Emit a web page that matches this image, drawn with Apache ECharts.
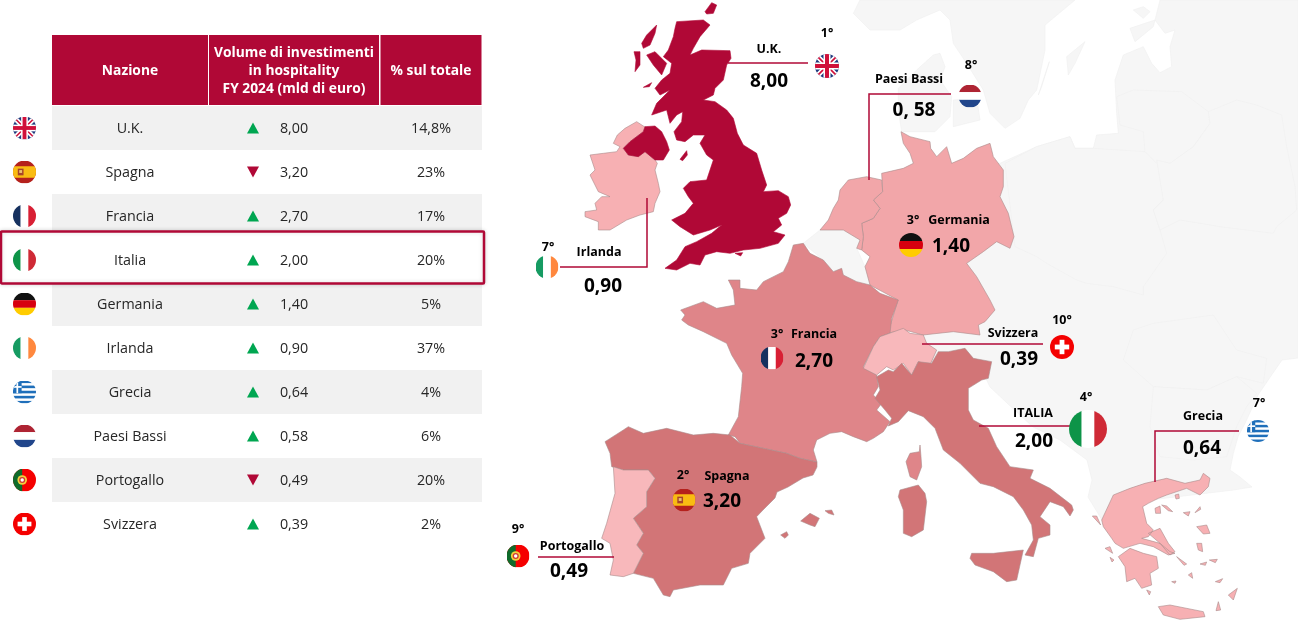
<!DOCTYPE html>
<html>
<head>
<meta charset="utf-8">
<script src="https://cdn.jsdelivr.net/npm/echarts@6/dist/echarts.min.js"></script>
<style>
  html, body { margin: 0; padding: 0; background: #fff; }
  #main { width: 1298px; height: 624px; }
</style>
</head>
<body>
<div id="main"></div>
<script>
// dati della tabella
var nazioni = ['U.K.', 'Spagna', 'Francia', 'Italia', 'Germania', 'Irlanda', 'Grecia', 'Paesi Bassi', 'Portogallo', 'Svizzera'];
var volumi = [8.00, 3.20, 2.70, 2.00, 1.40, 0.90, 0.64, 0.58, 0.49, 0.39];
var quote = ['14,8%', '23%', '17%', '20%', '5%', '37%', '4%', '6%', '20%', '2%'];
var trend = [1, -1, 1, 1, 1, 1, 1, 1, -1, 1];
var intestazioni = ['Nazione', 'Volume di investimenti\nin hospitality\nFY 2024 (mld di euro)', '% sul totale'];

// dati delle etichette sulla mappa
var nomiMappa = ['U.K.', 'Spagna', 'Francia', 'ITALIA', 'Germania', 'Irlanda', 'Grecia', 'Paesi Bassi', 'Portogallo', 'Svizzera'];
var valoriMappa = ['8,00', '3,20', '2,70', '2,00', '1,40', '0,90', '0,64', '0, 58', '0,49', '0,39'];
var posizioni = ['1°', '2°', '3°', '4°', '3°', '7°', '7°', '8°', '9°', '10°'];

var font = '"Open Sans", "Noto Sans", sans-serif';
var rosso = '#b00836';
var verde = '#00a651';

// bandiere tonde
function bandiera(corpo) {
  var svg = '<svg xmlns="http://www.w3.org/2000/svg" width="96" height="96" viewBox="0 0 24 24">' +
    '<defs><clipPath id="c"><circle cx="12" cy="12" r="12"/></clipPath></defs><g clip-path="url(#c)">' + corpo + '</g></svg>';
  return 'image://data:image/svg+xml;charset=utf-8,' + encodeURIComponent(svg);
}
function r(x, y, w, h, c) {
  return '<rect x="' + x + '" y="' + y + '" width="' + w + '" height="' + h + '" fill="' + c + '"/>';
}
var bandiere = {
  'U.K.': bandiera(r(0, 0, 24, 24, '#1f3a7d') +
    '<path d="M0 0L24 24M24 0L0 24" stroke="#fff" stroke-width="5"/><path d="M0 0L24 24M24 0L0 24" stroke="#d0103a" stroke-width="1.6"/>' +
    r(8.5, 0, 7, 24, '#fff') + r(0, 8.5, 24, 7, '#fff') + r(10, 0, 4, 24, '#d0103a') + r(0, 10, 24, 4, '#d0103a')),
  'Spagna': bandiera(r(0, 0, 24, 24, '#b5211c') + r(0, 6, 24, 12, '#f9bc12') + r(5, 8.5, 6, 7, '#a8442a') + r(6.5, 10, 3, 3, '#e8c070')),
  'Francia': bandiera(r(0, 0, 8, 24, '#16315f') + r(8, 0, 8, 24, '#fff') + r(16, 0, 8, 24, '#d81f34')),
  'Italia': bandiera(r(0, 0, 8, 24, '#0d9448') + r(8, 0, 8, 24, '#fff') + r(16, 0, 8, 24, '#cf2a36')),
  'Germania': bandiera(r(0, 0, 24, 8, '#111') + r(0, 8, 24, 8, '#d7000f') + r(0, 16, 24, 8, '#ffcc00')),
  'Irlanda': bandiera(r(0, 0, 8, 24, '#169b62') + r(8, 0, 8, 24, '#fff') + r(16, 0, 8, 24, '#ff883e')),
  'Grecia': bandiera(r(0, 0, 24, 24, '#fff') + r(0, 0, 24, 2.7, '#1f6fba') + r(0, 5.3, 24, 2.7, '#1f6fba') + r(0, 10.7, 24, 2.7, '#1f6fba') +
    r(0, 16, 24, 2.7, '#1f6fba') + r(0, 21.3, 24, 2.7, '#1f6fba') + r(0, 0, 9, 13.3, '#1f6fba') + r(3.6, 0, 1.8, 13.3, '#fff') + r(0, 5.8, 9, 1.8, '#fff')),
  'Paesi Bassi': bandiera(r(0, 0, 24, 8, '#ae2433') + r(0, 8, 24, 8, '#fff') + r(0, 16, 24, 8, '#21468b')),
  'Portogallo': bandiera(r(0, 0, 24, 24, '#f50000') + r(0, 0, 9.6, 24, '#0f6b2b') +
    '<circle cx="9.6" cy="12" r="5" fill="#f3d23c"/><circle cx="9.6" cy="12" r="3.2" fill="#d23a32"/><circle cx="9.6" cy="12" r="1.8" fill="#fff"/>'),
  'Svizzera': bandiera(r(0, 0, 24, 24, '#f40000') + r(9.6, 4.8, 4.8, 14.4, '#fff') + r(4.8, 9.6, 14.4, 4.8, '#fff'))
};

function tratto(ox, oy, p) {
  var ring = [];
  for (var i = 0; i < p.length; i += 2) ring.push([ox + p[i] / 3, oy + p[i + 1] / 3]);
  ring.push(ring[0].slice());
  return [ring];
}

var confiniUK = [
  tratto(530, 0, [440,65,520,60,540,75,510,110,490,145,480,165,515,150,600,152,603,175,590,195,580,240,555,265,550,285,520,300,555,305,590,330,610,355,622,400,640,435,680,460,695,510,710,555,700,575,745,572,775,590,782,615,770,640,745,655,755,675,730,695,765,705,745,730,690,745,640,750,600,760,560,755,525,765,510,795,480,790,440,810,405,805,440,780,465,740,500,725,545,700,575,675,540,690,490,705,450,680,425,660,465,640,490,610,475,590,460,565,480,545,530,540,550,480,530,465,510,430,525,405,490,405,465,425,440,420,432,395,455,365,458,335,440,345,420,370,410,330,365,345,380,310,420,270,390,285,375,265,395,240,420,220,425,190,400,170,415,150,430,110,435,85]),
  tratto(530, 0, [280,445,300,425,340,395,345,380,375,378,395,395,410,425,418,450,400,480,375,480,345,455,325,470,295,465]),
  tratto(530, 0, [335,130,350,105,380,75,375,100,360,135,340,145]),
  tratto(530, 0, [312,155,330,155,330,195,315,215,318,180]),
  tratto(530, 0, [525,35,545,8,560,15,550,40,530,42]),
  tratto(530, 0, [350,165,375,155,410,190,395,225,370,195]),
  tratto(530, 0, [450,478,470,452,472,465,458,482]),
  tratto(530, 0, [615,760,638,758,632,768]),
  tratto(530, 0, [340,262,365,248,358,260])
];
var confiniIrlanda = [
  tratto(530, 0, [250,430,262,405,285,385,320,365,340,378,345,380,340,395,300,425,280,445,295,465,325,470,345,455,375,480,382,490,375,510,385,550,390,575,375,610,370,635,330,645,290,660,240,690,205,690,205,665,165,650,165,635,200,630,195,610,215,590,240,590,205,575,180,525,195,510,180,465,220,460,260,455,270,440])
];
var confiniGermania = [
  tratto(820, 0, [185,520,250,505,280,490,270,460,250,430,243,395,270,410,330,425,332,445,350,470,380,440,395,490,430,475,470,445,510,430,520,470,550,510,550,560,540,590,565,640,582,710,570,745,530,725,490,755,440,790,470,830,510,900,525,930,495,965,475,975,480,1005,400,995,309,1005,255,990,204,999,234,900,150,855,135,800,150,770,125,750,130,710,125,670,160,655,180,625,160,600,188,575])
];
var confiniOlanda = [
  tratto(820, 0, [60,570,85,540,140,530,185,540,188,575,160,600,180,625,160,655,125,670,130,710,125,750,110,745,120,720,70,690,30,690,0,690,25,660,40,625,55,600])
];
var confiniFrancia = [
  tratto(660, 240, [400,15,430,10,450,40,490,60,520,95,545,85,550,105,590,125,630,135,660,160,715,180,695,235,690,280,660,290,640,320,610,380,650,405,655,440,640,465,665,490,650,510,690,545,670,575,640,595,620,605,580,590,545,575,510,580,470,600,460,630,471,666,420,655,380,640,310,625,240,610,225,590,205,585,235,530,245,440,248,400,215,345,200,310,130,275,85,255,65,240,75,225,62,210,130,185,170,205,225,195,220,150,205,120,240,120,240,145,290,150,310,125,370,95,385,65]),
  tratto(860, 320, [180,375,183,410,185,440,170,480,150,470,138,425,150,400,178,395])
];
var confiniSvizzera = [
  tratto(660, 240, [660,290,730,265,750,280,790,285,800,310,830,330,810,375,775,365,755,405,730,370,700,390,680,380,650,405,610,385,640,320])
];
var confiniItalia = [
  tratto(860, 320, [50,170,85,150,100,155,125,130,155,165,175,125,215,130,235,95,265,95,315,85,340,115,395,125,385,175,365,180,325,205,325,270,340,300,385,325,410,380,450,440,520,450,510,475,570,505,635,555,640,570,630,588,610,560,570,545,540,590,570,615,570,645,535,655,520,710,495,705,520,660,515,615,490,570,460,530,400,500,360,490,300,430,250,390,225,325,190,290,145,272,115,305,85,318,95,295,75,270,45,235,60,210]),
  tratto(860, 320, [120,510,175,495,195,520,200,545,190,630,155,650,130,640,130,570,115,530]),
  tratto(860, 320, [335,700,400,700,490,690,470,780,440,785,400,755,345,735,330,715])
];
var confiniSpagna = [
  tratto(500, 420, [315,65,370,30,385,20,430,40,500,25,580,45,640,40,690,45,720,70,790,85,860,100,900,115,951,126,951,141,939,165,909,174,864,201,831,216,825,234,789,270,770,290,795,355,750,400,745,430,695,445,670,495,600,495,520,510,510,530,490,525,460,475,400,460,430,400,410,375,430,340,400,295,440,260,440,215,465,175,445,150,370,150,335,140,330,100]),
  tratto(760, 420, [122,303,150,280,178,295,165,320,150,315]),
  tratto(760, 420, [195,272,215,270,222,285,205,280]),
  tratto(760, 420, [62,345,80,335,85,345,75,355])
];
var confiniPortogallo = [
  tratto(500, 420, [340,140,370,150,445,150,465,175,440,215,440,260,400,295,430,340,410,375,430,400,400,460,370,470,330,465,340,420,330,370,305,355,320,310,345,220])
];
var confiniGrecia = [
  tratto(1060, 380, [125,420,160,345,210,325,255,310,320,295,375,310,420,300,430,280,450,295,445,320,420,345,380,325,320,345,295,355,265,370,248,380,260,430,280,450,265,470,245,475,300,490,330,515,345,520,325,525,280,500,240,490,190,505,165,490,155,475,130,440]),
  tratto(1060, 380, [175,530,210,505,250,520,290,530,295,565,270,580,275,615,245,625,225,595,200,605,195,560]),
  tratto(1060, 380, [265,460,300,445,325,490,345,515,330,525,300,490]),
  tratto(1060, 380, [295,680,330,675,430,695,435,710,360,718,310,705]),
  tratto(1060, 380, [285,385,300,378,302,400,287,400]),
  tratto(1060, 380, [305,375,320,378,338,395,325,392]),
  tratto(1060, 380, [345,345,356,342,358,355,348,357]),
  tratto(1060, 380, [410,440,440,435,450,460,430,462]),
  tratto(1060, 380, [410,490,425,490,428,515,415,510]),
  tratto(1060, 380, [505,645,532,625,520,660]),
  tratto(1060, 380, [97,408,110,408,122,435]),
  tratto(1060, 380, [135,505,150,500,158,520]),
  tratto(1060, 380, [150,532,162,540,156,546]),
  tratto(1060, 380, [370,398,390,395,385,408]),
  tratto(1060, 380, [350,530,380,552,372,556]),
  tratto(1060, 380, [420,552,440,546,436,556]),
  tratto(1060, 380, [448,540,472,538,466,548]),
  tratto(1060, 380, [466,605,488,596,480,608]),
  tratto(1060, 380, [385,585,395,578,398,595]),
  tratto(1060, 380, [475,665,482,690,468,692]),
  tratto(1060, 380, [335,605,348,603,345,610]),
  tratto(1060, 380, [405,398,420,380,422,388]),
  tratto(1060, 380, [260,630,272,635,268,645])
];

// terre in grigio chiaro, sotto ai paesi colorati
var confiniEst = [
  tratto(1000, 0, [0,490,110,440,210,410,225,445,280,445,290,405,355,400,350,340,345,240,370,165,430,140,455,190,480,218,515,200,510,140,525,90,495,100,465,60,480,0,895,0,895,1074,846,1080,819,1119,774,1185,735,1270,714,1310,700,1360,690,1410,720,1431,756,1461,700,1470,450,1500,306,1560,264,1491,276,1440,261,1380,180,1320,99,1281,21,1209,-30,1161,-45,1130,-240,1100,-240,500])
];
var confiniNord = [
  tratto(820, 0, [120,0,100,40,150,90,240,90,290,60,360,30,390,60,400,130,440,190,490,270,510,340,555,385,600,355,625,300,650,270,675,150,675,75,765,0]),
  tratto(820, 0, [235,265,290,210,340,165,360,160,375,200,360,240,395,290,390,350,345,395,245,395,235,330]),
  tratto(820, 0, [400,300,470,295,480,360,400,380]),
  tratto(1000, 0, [200,170,255,125,225,190,205,225]),
  tratto(1000, 0, [115,285,148,185,125,260]),
  tratto(1000, 0, [390,85,465,60,460,80,405,125]),
  tratto(1000, 0, [400,30,430,20,450,35,430,55])
];
var confiniBelgio = [
  tratto(820, 0, [-50,730,0,690,70,690,120,720,110,745,135,800,150,855,120,855,75,840,40,815,10,780])
];
var confiniPolonia = [
  tratto(1000, 0, [15,490,110,440,210,410,225,445,280,445,435,455,470,480,490,560,490,600,460,630,480,690,500,760,430,860,430,885,340,860,260,850,230,840,140,790,110,770,45,740])
];
var confiniLituania = [
  tratto(1000, 0, [350,290,400,270,545,275,625,335,630,370,580,440,510,490,470,490,435,455,430,395,360,375])
];
var confiniBielorussia = [
  tratto(1000, 0, [625,335,710,300,770,315,845,345,860,440,885,560,890,630,830,680,820,700,660,680,540,660,480,690,460,630,490,600,470,480,510,490,580,440,630,370])
];
var confiniRomania = [
  tratto(980, 280, [460,150,520,130,700,105,770,210,860,235,850,310,770,290,680,330,520,320,430,240])
];
var confiniBulgaria = [
  tratto(980, 280, [520,320,680,330,770,290,830,340,800,380,770,440,740,530,640,540,540,530,510,440])
];

var regioni = [
  { name: 'Est', rings: confiniEst, colore: '#f6f6f6' },
  { name: 'Nord', rings: confiniNord, colore: '#f6f6f6' },
  { name: 'Belgio', rings: confiniBelgio, colore: '#f6f6f6' },
  { name: 'Polonia', rings: confiniPolonia, colore: '#f6f6f6' },
  { name: 'Lituania', rings: confiniLituania, colore: '#f6f6f6' },
  { name: 'Bielorussia', rings: confiniBielorussia, colore: '#f6f6f6' },
  { name: 'Romania', rings: confiniRomania, colore: '#f6f6f6' },
  { name: 'Bulgaria', rings: confiniBulgaria, colore: '#f6f6f6' },
  { name: 'Germania', rings: confiniGermania, colore: '#f2a6a9' },
  { name: 'Paesi Bassi', rings: confiniOlanda, colore: '#f2a6a9' },
  { name: 'Francia', rings: confiniFrancia, colore: '#df8589' },
  { name: 'Svizzera', rings: confiniSvizzera, colore: '#f8b8bb' },
  { name: 'Italia', rings: confiniItalia, colore: '#d27577' },
  { name: 'Spagna', rings: confiniSpagna, colore: '#d27577' },
  { name: 'Portogallo', rings: confiniPortogallo, colore: '#f8b8bb' },
  { name: 'Irlanda', rings: confiniIrlanda, colore: '#f7b0b3' },
  { name: 'U.K.', rings: confiniUK, colore: '#b00836' },
  { name: 'Grecia', rings: confiniGrecia, colore: '#f7b0b3' }
];

echarts.registerMap('europa', {
  type: 'FeatureCollection',
  features: regioni.map(function (reg) {
    return {
      type: 'Feature',
      properties: { name: reg.name },
      geometry: { type: 'MultiPolygon', coordinates: reg.rings }
    };
  })
});

// dove stanno le etichette sulla mappa (nome, valore, posizione, bandiera, raggio)
var layoutMappa = {
  'U.K.': { nome: [769, 48], valore: [769, 80], pos: [827, 32], flag: [827, 66], size: 24, linea: [[728, 63], [808, 63]] },
  'Spagna': { nome: [727, 475], valore: [722, 500], pos: [683, 474], flag: [684, 500], size: 23 },
  'Francia': { nome: [814, 333], valore: [814, 360], pos: [777, 333], flag: [772, 358], size: 23 },
  'Italia': { nome: [1033, 412], valore: [1034, 440], pos: [1086, 396], flag: [1088, 429], size: 38, linea: [[979, 426], [1070, 426]] },
  'Germania': { nome: [959, 219], valore: [951, 245], pos: [913, 219], flag: [911, 245], size: 24 },
  'Irlanda': { nome: [599, 251], valore: [603, 285], pos: [548, 246], flag: [547, 267], size: 23, linea: [[647, 198], [647, 267], [560, 267]] },
  'Grecia': { nome: [1203, 415], valore: [1202, 447], pos: [1259, 402], flag: [1258, 431], size: 22, linea: [[1155, 482], [1155, 431], [1239, 431]] },
  'Paesi Bassi': { nome: [909, 78], valore: [914, 109], pos: [971, 64], flag: [970, 96], size: 23, linea: [[869, 180], [869, 94], [951, 94]] },
  'Portogallo': { nome: [572, 545], valore: [569, 570], pos: [518, 528], flag: [518, 556], size: 23, linea: [[538, 557], [614, 557]] },
  'Svizzera': { nome: [1013, 332], valore: [1019, 358], pos: [1062, 319], flag: [1062, 347], size: 24, linea: [[922, 344], [1043, 344]] }
};

function testoMappa(chiave, testi, size, dy) {
  return {
    type: 'scatter',
    coordinateSystem: 'geo',
    geoIndex: 0,
    silent: true,
    symbolSize: 1,
    itemStyle: { color: 'transparent', opacity: 1 },
    label: {
      show: true, position: 'inside', formatter: '{b}', offset: [0, dy],
      fontFamily: font, fontWeight: 'bold', fontSize: size, color: '#000'
    },
    data: nazioni.map(function (n, i) {
      return { name: testi[i], value: layoutMappa[n][chiave] };
    })
  };
}

function colonnaTabella(x, testi) {
  return {
    type: 'scatter',
    silent: true,
    symbolSize: 1,
    itemStyle: { color: 'transparent', opacity: 1 },
    label: {
      show: true, position: 'inside', formatter: '{b}', offset: [0, 1],
      fontFamily: font, fontSize: 14.3, color: '#262626'
    },
    data: nazioni.map(function (n, i) {
      return { name: testi[i], value: [x, n] };
    })
  };
}

var myChart = echarts.init(document.getElementById('main'));

var option = {
  animation: false,
  backgroundColor: '#fff',
  grid: { left: 52, top: 106, width: 430, height: 440 },
  xAxis: { type: 'value', min: 52, max: 482, show: false },
  yAxis: {
    type: 'category', data: nazioni, inverse: true,
    axisLine: { show: false }, axisTick: { show: false }, axisLabel: { show: false },
    splitArea: { show: true, areaStyle: { color: ['#f1f1f1', '#ffffff'] } }
  },
  geo: {
    map: 'europa',
    silent: true,
    roam: false,
    aspectScale: 1,
    projection: {
      project: function (p) { return p; },
      unproject: function (p) { return p; }
    },
    boundingCoords: [[0, 0], [1298, 624]],
    layoutCenter: [649, 312],
    layoutSize: 1298,
    itemStyle: { areaColor: '#f6f6f6', borderColor: '#f0f0f0', borderWidth: 0.7 },
    regions: regioni.map(function (reg) {
      var grigio = reg.colore === '#f6f6f6';
      return {
        name: reg.name,
        itemStyle: {
          areaColor: reg.colore,
          borderColor: grigio ? '#f0f0f0' : (reg.name === 'U.K.' ? '#b00836' : '#a98c8c'),
          borderWidth: grigio ? 0.7 : 0.6
        }
      };
    })
  },
  graphic: [
    { type: 'rect', z: 1, shape: { x: 52, y: 35, width: 156, height: 70 }, style: { fill: rosso } },
    { type: 'rect', z: 1, shape: { x: 209, y: 35, width: 170, height: 70 }, style: { fill: rosso } },
    { type: 'rect', z: 1, shape: { x: 380.5, y: 35, width: 101, height: 70 }, style: { fill: rosso } },
    { type: 'text', z: 3, style: { x: 130, y: 71, text: intestazioni[0], fill: '#fff', font: 'bold 13.8px ' + font, align: 'center', verticalAlign: 'middle' } },
    { type: 'text', z: 3, style: { x: 294, y: 71.5, text: intestazioni[1], fill: '#fff', font: 'bold 13.8px ' + font, align: 'center', verticalAlign: 'middle', lineHeight: 18 } },
    { type: 'text', z: 3, style: { x: 431, y: 71, text: intestazioni[2], fill: '#fff', font: 'bold 13.8px ' + font, align: 'center', verticalAlign: 'middle' } },
    {
      type: 'rect', z: 1,
      shape: { x: 1, y: 231.5, width: 483, height: 52, r: 1 },
      style: { fill: '#fff', stroke: rosso, lineWidth: 2.5, shadowBlur: 4, shadowColor: 'rgba(0,0,0,0.15)' }
    }
  ],
  series: [
    colonnaTabella(130, nazioni),
    colonnaTabella(294, volumi.map(function (v) { return v.toFixed(2).replace('.', ','); })),
    colonnaTabella(431, quote),
    {
      type: 'scatter',
      silent: true,
      symbol: 'triangle',
      symbolSize: [12, 11],
      itemStyle: { opacity: 1 },
      data: nazioni.map(function (n, i) {
        return {
          value: [253, n],
          symbolRotate: trend[i] > 0 ? 0 : 180,
          itemStyle: { color: trend[i] > 0 ? verde : rosso, opacity: 1 }
        };
      })
    },
    {
      type: 'scatter',
      silent: true,
      clip: false,
      symbolSize: 23,
      itemStyle: { opacity: 1 },
      data: nazioni.map(function (n) {
        return { value: [24.5, n], symbol: bandiere[n] };
      })
    },
    {
      type: 'lines',
      coordinateSystem: 'geo',
      geoIndex: 0,
      polyline: true,
      silent: true,
      lineStyle: { color: rosso, width: 1.5, opacity: 1, curveness: 0 },
      data: nazioni.filter(function (n) { return layoutMappa[n].linea; }).map(function (n) {
        return { coords: layoutMappa[n].linea };
      })
    },
    {
      type: 'scatter',
      coordinateSystem: 'geo',
      geoIndex: 0,
      silent: true,
      itemStyle: { opacity: 1 },
      data: nazioni.map(function (n) {
        return { value: layoutMappa[n].flag, symbol: bandiere[n], symbolSize: layoutMappa[n].size };
      })
    },
    testoMappa('nome', nomiMappa, 12.5, 1),
    testoMappa('valore', valoriMappa, 19, 1.5),
    testoMappa('pos', posizioni, 12.5, 1)
  ]
};

myChart.setOption(option);
</script>
</body>
</html>
